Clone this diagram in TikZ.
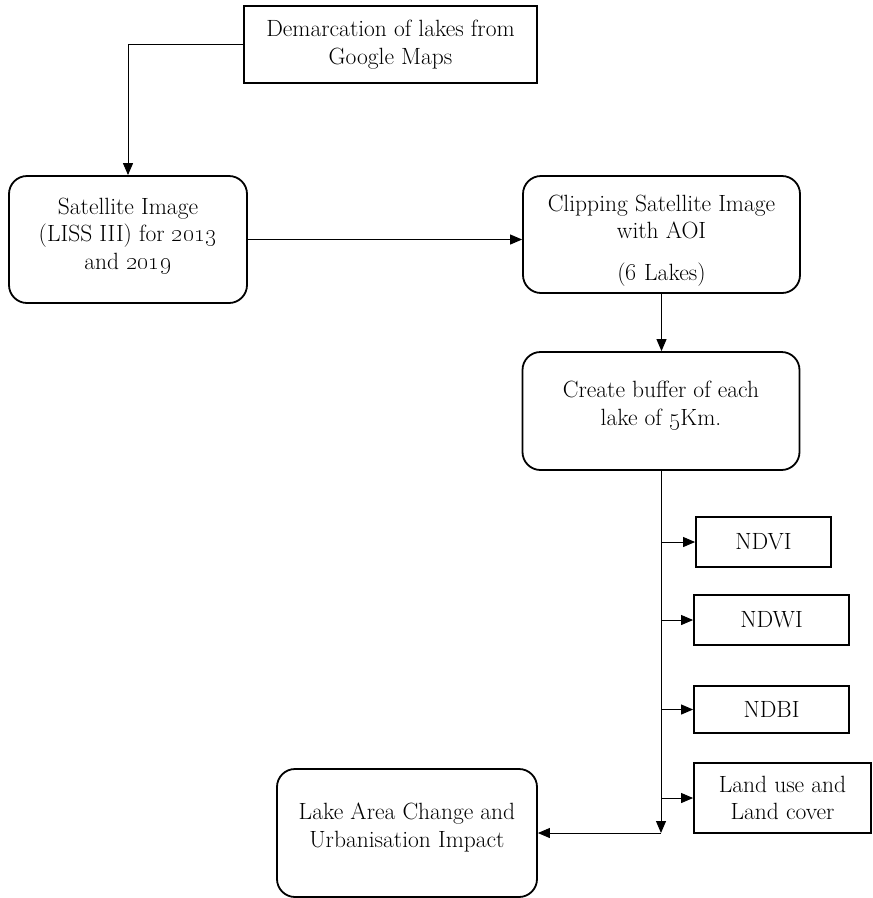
\documentclass[tikz,border=0pt]{standalone}
\usepackage{tikz}
\usetikzlibrary{arrows.meta}

\begin{document}
\begin{tikzpicture}[x=1pt, y=-1pt, line width=1pt,
  every node/.style={align=center, font=\fontsize{23.5}{27.5}\selectfont},
  box/.style={draw, line width=1.8pt, inner sep=0pt},
  rbox/.style={box, rounded corners=18pt},
  arrow/.style={-{Triangle[length=12pt, width=10pt]}}]

  \useasboundingbox (0, 0) rectangle (873, 898);

  \node[box, minimum width=293pt, minimum height=77pt] (demarc) at (390.5, 44.5)
    {Demarcation of lakes from\\Google Maps};
  \node[rbox, minimum width=238pt, minimum height=127pt] (sat) at (128, 239.5)
    {Satellite Image\\(LISS III) for \oldstylenums{2013}\\and \oldstylenums{2019}\\[-16pt]};
  \node[rbox, minimum width=277pt, minimum height=117pt] (clip) at (661.5, 234.5)
    {\rule{0pt}{28pt}Clipping Satellite Image\\with AOI\\[14pt](\oldstylenums{6} Lakes)};
  \node[rbox, minimum width=277pt, minimum height=118pt] (buffer) at (661, 411)
    {Create buffer of each\\lake of \oldstylenums{5}Km.\\[-12pt]};
  \node[rbox, minimum width=260pt, minimum height=128pt] (lake) at (407, 833)
    {Lake Area Change and\\Urbanisation Impact\\[-12pt]};

  \node[box, minimum width=135pt, minimum height=50pt] (ndvi) at (763.5, 542) {NDVI};
  \node[box, minimum width=155pt, minimum height=50pt] (ndwi) at (771.5, 620) {NDWI};
  \node[box, minimum width=155pt, minimum height=47pt] (ndbi) at (771.5, 709.5) {NDBI};
  \node[box, minimum width=177pt, minimum height=70pt] (lulc) at (782.5, 798)
    {Land use and\\Land cover};

  \coordinate (split) at (buffer.south |- lake.east);

  \draw[arrow] (demarc.west) -| (sat.north);
  \draw[arrow] (sat.east) -- (sat.east -| clip.west);
  \draw[arrow] (clip.south) -- (clip.south |- buffer.north);
  \draw[arrow] (buffer.south) -- (split);
  \draw[arrow] (split) -- (lake.east);
  \foreach \n in {ndvi, ndwi, ndbi, lulc}
    \draw[arrow] (buffer.south |- \n.west) -- (\n.west);

\end{tikzpicture}
\end{document}
